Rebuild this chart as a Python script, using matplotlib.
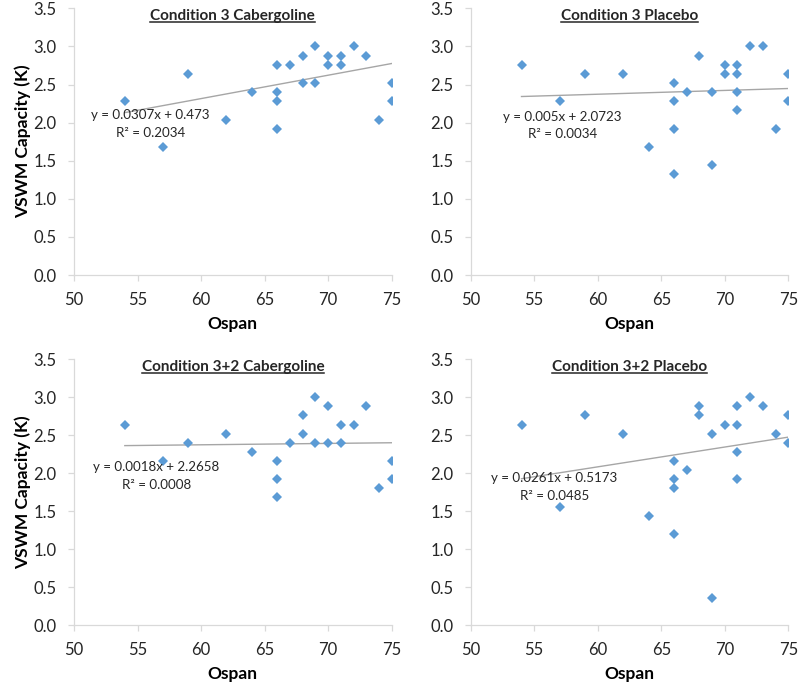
import matplotlib
matplotlib.use('Agg')
import matplotlib.pyplot as plt
from matplotlib.lines import Line2D

plt.rcParams['font.family'] = ['Lato', 'DejaVu Sans']

# ---------------- data ----------------
titles = ["Condition 3 Cabergoline", "Condition 3 Placebo",
          "Condition 3+2 Cabergoline", "Condition 3+2 Placebo"]

ospan_c3_cab = [54, 57, 59, 62, 64, 66, 66, 66, 66, 67, 68, 68, 69, 69, 70, 70, 71, 71, 72, 73, 74, 75, 75]
vswm_c3_cab = [2.28, 1.68, 2.64, 2.04, 2.40, 2.76, 2.40, 2.28, 1.92, 2.76, 2.88, 2.52, 3.00, 2.52,
               2.88, 2.76, 2.88, 2.76, 3.00, 2.88, 2.04, 2.52, 2.28]

ospan_c3_pla = [54, 57, 59, 62, 64, 66, 66, 66, 66, 67, 68, 69, 69, 70, 70, 71, 71, 71, 71, 72, 73, 74, 75, 75]
vswm_c3_pla = [2.76, 2.28, 2.64, 2.64, 1.68, 2.52, 2.28, 1.92, 1.32, 2.40, 2.88, 2.40, 1.44, 2.76,
               2.64, 2.76, 2.64, 2.40, 2.16, 3.00, 3.00, 1.92, 2.64, 2.28]

ospan_c32_cab = [54, 57, 59, 62, 64, 66, 66, 66, 67, 68, 68, 69, 69, 70, 70, 71, 71, 72, 73, 74, 75, 75]
vswm_c32_cab = [2.64, 2.16, 2.40, 2.52, 2.28, 2.16, 1.92, 1.68, 2.40, 2.76, 2.52, 3.00, 2.40, 2.88,
                2.40, 2.64, 2.40, 2.64, 2.88, 1.80, 2.16, 1.92]

ospan_c32_pla = [54, 57, 59, 62, 64, 66, 66, 66, 66, 67, 68, 68, 69, 69, 70, 71, 71, 71, 71, 72, 73, 74, 75, 75]
vswm_c32_pla = [2.64, 1.56, 2.76, 2.52, 1.44, 2.16, 1.92, 1.80, 1.20, 2.04, 2.88, 2.76, 2.52, 0.36,
                2.64, 2.88, 2.64, 2.28, 1.92, 3.00, 2.88, 2.52, 2.76, 2.40]

slopes = [0.0307, 0.005, 0.0018, 0.0261]
intercepts = [0.473, 2.0723, 2.2658, 0.5173]
eq_labels = ["y = 0.0307x + 0.473", "y = 0.005x + 2.0723",
             "y = 0.0018x + 2.2658", "y = 0.0261x + 0.5173"]
r2_labels = ["R² = 0.2034", "R² = 0.0034", "R² = 0.0008", "R² = 0.0485"]

x_ticks = [50, 55, 60, 65, 70, 75]
y_ticks = [0.0, 0.5, 1.0, 1.5, 2.0, 2.5, 3.0, 3.5]
x_label = "Ospan"
y_label = "VSWM Capacity (K)"

series_x = [ospan_c3_cab, ospan_c3_pla, ospan_c32_cab, ospan_c32_pla]
series_y = [vswm_c3_cab, vswm_c3_pla, vswm_c32_cab, vswm_c32_pla]

# ---------------- layout ----------------
W, H = 800, 686
fig = plt.figure(figsize=(W / 100, H / 100), dpi=100)

def frac(l, r, t, b):
    return [l / W, 1 - b / H, (r - l) / W, (b - t) / H]

axes_px = [(74, 391.7, 8.3, 275), (470.7, 788.3, 8.3, 275),
           (74, 391.7, 359.3, 625), (470.7, 788.3, 359.3, 625)]
eq_pos = [(56.0, 2.10, 1.86), (57.2, 2.08, 1.85), (56.5, 2.085, 1.85), (56.6, 1.93, 1.70)]
title_y_px = [16, 16, 367, 367]

spine_col = '#d9d9d9'
pt_col = '#5b9bd5'
axes_list = []
for i in range(4):
    ax = fig.add_axes(frac(*axes_px[i]))
    axes_list.append(ax)
    xs, ys = series_x[i], series_y[i]
    ax.plot(xs, ys, linestyle='none', marker='D', markersize=4.6,
            color=pt_col, markeredgewidth=0, zorder=3)
    x0, x1 = min(xs), max(xs)
    ax.plot([x0, x1], [slopes[i] * x0 + intercepts[i], slopes[i] * x1 + intercepts[i]],
            color='#a6a6a6', linewidth=1.0, zorder=2)
    ax.set_xlim(50, 75)
    ax.set_ylim(0, 3.5)
    ax.set_xticks(x_ticks)
    ax.set_yticks(y_ticks)
    ax.set_yticklabels([f"{v:.1f}" for v in y_ticks])
    for s in ['top', 'right']:
        ax.spines[s].set_visible(False)
    for s in ['left', 'bottom']:
        ax.spines[s].set_color(spine_col)
        ax.spines[s].set_linewidth(0.9)
    ax.tick_params(axis='both', colors=spine_col, labelcolor='#262626',
                   labelsize=12, length=4, width=0.9, direction='out')
    ax.tick_params(axis='x', pad=8.5)
    ax.tick_params(axis='y', pad=8.5)
    ax.set_xlabel(x_label, fontsize=12.5, fontweight='bold', labelpad=5.5)
    if i % 2 == 0:
        ax.set_ylabel(y_label, fontsize=12.5, fontweight='bold', labelpad=2)
    ex, ey, ry = eq_pos[i]
    ax.text(ex, ey, eq_labels[i], ha='center', va='center', fontsize=9.6, color='#262626')
    ax.text(ex, ry, r2_labels[i], ha='center', va='center', fontsize=9.6, color='#262626')

title_texts = []
for i in range(4):
    l, r, t, b = axes_px[i]
    cx = (l + r) / 2 / W
    ty = 1 - title_y_px[i] / H
    tt = fig.text(cx, ty, titles[i], ha='center', va='center', fontsize=11,
                  fontweight='bold', color='#262626')
    title_texts.append(tt)

fig.canvas.draw()
renderer = fig.canvas.get_renderer()
for tt in title_texts:
    bb = tt.get_window_extent(renderer=renderer)
    yline = bb.y0 + 1.0
    fig.add_artist(Line2D([bb.x0 / W, bb.x1 / W], [yline / H, yline / H],
                          transform=fig.transFigure, color='#262626', linewidth=1.1))

fig.savefig('out.png', dpi=100)
